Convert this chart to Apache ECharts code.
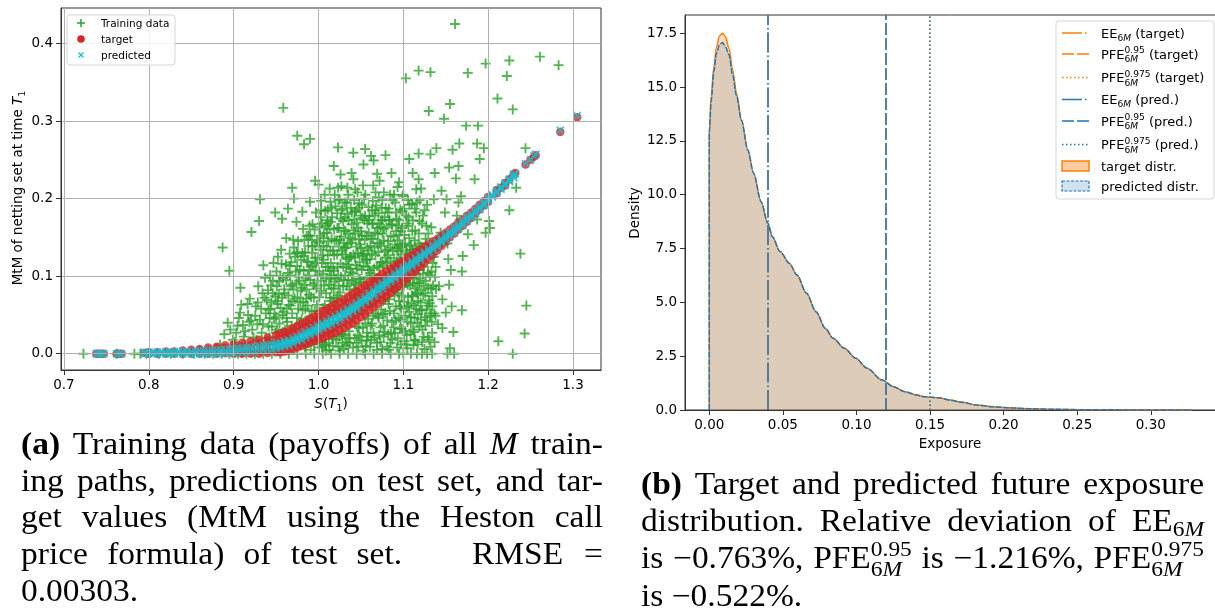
<!DOCTYPE html>
<html lang="en">
<head>
<meta charset="UTF-8">
<title>Training data and exposure distribution</title>
<script src="https://cdn.jsdelivr.net/npm/echarts@6.0.0/dist/echarts.min.js"></script>
<style>
  html, body { margin: 0; padding: 0; background: #fff; }
  #main { width: 1215px; height: 614px; }
</style>
</head>
<body>
<div id="main"></div>
<script type="text/javascript">
// ---- data: left panel (payoffs vs S(T1)) ----
var trainPts = [
  // payoff zero
  [0.723,0],[0.762,0],[0.783,0],[0.79,0],[0.797,0],[0.812,0],[0.826,0],[0.84,0],[0.853,0],[0.866,0],[0.876,0],[0.886,0],
  [0.895,0],[0.905,0],[0.915,0],[0.925,0],[0.935,0],[0.945,0],[0.955,0],[0.965,0],[0.975,0],[0.985,0],[0.995,0],[1.005,0],
  [1.015,0],[1.025,0],[1.035,0],[1.045,0],[1.055,0],[1.065,0],[1.075,0],[1.085,0],[1.095,0],[1.1,0],[1.109,0],[1.116,0],
  [1.122,0],[1.128,0],[1.134,0],[1.152,0],[1.16,0],[1.229,0],
  // 0.88 - 0.92
  [0.884,0.012],[0.889,0.025],[0.893,0.04],[0.896,0.031],[0.887,0.137],[0.895,0.107],[0.899,0.018],[0.892,0.006],
  [0.903,0.027],[0.906,0.046],[0.909,0.063],[0.911,0.037],[0.914,0.012],[0.917,0.05],[0.905,0.008],[0.912,0.022],
  [0.919,0.071],[0.908,0.085],[0.921,0.157],[0.93,0.171],[0.931,0.199],[0.935,0.114],
  [0.9015,0.015],[0.9045,0.036],[0.9075,0.053],[0.9105,0.004],[0.9135,0.029],[0.9165,0.064],[0.9185,0.041],
  // 0.92 - 0.94
  [0.922,0.031],[0.924,0.004],[0.926,0.061],[0.927,0.018],[0.929,0.087],[0.931,0.044],[0.933,0.027],[0.934,0.078],
  [0.936,0.009],[0.938,0.052],[0.939,0.069],[0.928,0.038],[0.937,0.098],
  [0.9205,0.043],[0.9235,0.021],[0.9255,0.049],[0.9285,0.066],[0.9305,0.012],[0.9325,0.058],[0.9345,0.038],
  [0.9365,0.072],[0.9385,0.02],[0.9405,0.082],[0.9425,0.046],[0.9435,0.011],
  // 0.94 - 0.96
  [0.941,0.057],[0.942,0.021],[0.944,0.088],[0.945,0.035],[0.946,0.078],[0.947,0.117],[0.948,0.006],[0.95,0.047],
  [0.951,0.087],[0.952,0.064],[0.953,0.015],[0.955,0.1],[0.956,0.134],[0.957,0.072],[0.958,0.028],[0.959,0.054],
  [0.943,0.101],[0.949,0.074],[0.954,0.039],[0.949,0.182],[0.957,0.174],[0.9585,0.317],
  [0.9455,0.016],[0.9475,0.045],[0.9495,0.027],[0.9515,0.068],[0.9535,0.093],[0.9555,0.012],[0.9575,0.05],
  [0.9595,0.083],[0.9445,0.066],[0.9505,0.106],[0.9565,0.116],
  [0.9412,0.035],[0.9432,0.058],[0.9462,0.094],[0.9482,0.052],[0.9512,0.031],[0.9532,0.077],[0.9552,0.059],
  [0.9582,0.098],[0.9522,0.125],
  // 0.96 - 0.98
  [0.96,0.078],[0.961,0.012],[0.962,0.095],[0.963,0.041],[0.964,0.104],[0.965,0.063],[0.966,0.024],[0.967,0.087],
  [0.968,0.118],[0.969,0.052],[0.97,0.005],[0.971,0.137],[0.972,0.071],[0.973,0.033],[0.974,0.091],[0.975,0.113],
  [0.976,0.058],[0.977,0.018],[0.978,0.108],[0.979,0.081],[0.962,0.149],[0.969,0.214],[0.971,0.2],[0.974,0.17],
  [0.964,0.187],[0.966,0.129],[0.976,0.145],[0.975,0.281],
  [0.9605,0.031],[0.9625,0.058],[0.9645,0.075],[0.9665,0.101],[0.9685,0.036],[0.9705,0.083],[0.9725,0.125],
  [0.9745,0.046],[0.9765,0.099],[0.9785,0.066],[0.9615,0.115],[0.9655,0.009],[0.9695,0.068],[0.9735,0.015],
  [0.9755,0.129],[0.9775,0.038],[0.9795,0.121],
  [0.9622,0.046],[0.9642,0.021],[0.9672,0.062],[0.9692,0.089],[0.9712,0.029],[0.9732,0.106],[0.9752,0.073],
  [0.9772,0.094],[0.9792,0.011],[0.9662,0.113],[0.9702,0.147],[0.9742,0.131],
  // 0.98 - 1.00
  [0.98,0.044],[0.981,0.13],[0.982,0.067],[0.983,0.126],[0.984,0.009],[0.985,0.097],[0.986,0.152],[0.987,0.029],
  [0.988,0.139],[0.989,0.076],[0.99,0.152],[0.991,0.112],[0.992,0.055],[0.993,0.167],[0.994,0.088],[0.995,0.021],
  [0.996,0.123],[0.997,0.182],[0.998,0.063],[0.999,0.101],[0.982,0.161],[0.985,0.04],[0.988,0.118],[0.993,0.138],
  [0.997,0.04],[0.996,0.223],[0.981,0.183],[0.99,0.196],[0.986,0.083],[0.99,0.277],[0.983,0.27],
  [0.9805,0.085],[0.9825,0.107],[0.9845,0.058],[0.9865,0.119],[0.9885,0.017],[0.9905,0.095],[0.9925,0.13],
  [0.9945,0.072],[0.9965,0.107],[0.9985,0.145],[0.9815,0.027],[0.9835,0.147],[0.9855,0.071],[0.9875,0.1],
  [0.9895,0.048],[0.9915,0.035],[0.9935,0.114],[0.9955,0.055],[0.9975,0.084],[0.9995,0.124],[0.9895,0.165],
  [0.9955,0.16],
  [0.9812,0.056],[0.9832,0.089],[0.9852,0.013],[0.9872,0.062],[0.9892,0.108],[0.9912,0.073],[0.9932,0.029],
  [0.9952,0.091],[0.9972,0.117],[0.9992,0.046],[0.9842,0.131],[0.9882,0.152],[0.9922,0.147],[0.9962,0.139],
  [0.9982,0.024],[0.9908,0.005],[0.9948,0.012],
  // 1.00 - 1.02
  [1.0,0.218],[1.001,0.143],[1.002,0.027],[1.003,0.094],[1.004,0.168],[1.005,0.059],[1.006,0.121],[1.007,0.011],
  [1.008,0.184],[1.009,0.078],[1.01,0.156],[1.011,0.186],[1.012,0.041],[1.013,0.107],[1.014,0.133],[1.015,0.068],
  [1.016,0.176],[1.017,0.019],[1.018,0.242],[1.019,0.093],[1.001,0.073],[1.004,0.117],[1.006,0.149],[1.009,0.004],
  [1.011,0.127],[1.013,0.161],[1.015,0.101],[1.017,0.051],[1.019,0.146],[1.003,0.197],[1.008,0.032],[1.014,0.196],
  [1.018,0.084],
  [1.0005,0.106],[1.0025,0.134],[1.0045,0.04],[1.0065,0.088],[1.0085,0.112],[1.0105,0.052],[1.0125,0.089],
  [1.0145,0.117],[1.0165,0.036],[1.0185,0.127],[1.0015,0.163],[1.0035,0.016],[1.0055,0.103],[1.0075,0.063],
  [1.0095,0.138],[1.0115,0.028],[1.0135,0.072],[1.0155,0.148],[1.0175,0.11],[1.0195,0.062],[1.0025,0.176],
  [1.0085,0.165],[1.0145,0.17],[1.0185,0.16],
  [1.0012,0.049],[1.0032,0.081],[1.0052,0.127],[1.0072,0.041],[1.0092,0.097],[1.0112,0.112],[1.0132,0.056],
  [1.0152,0.084],[1.0172,0.133],[1.0192,0.037],[1.0022,0.152],[1.0062,0.155],[1.0102,0.172],[1.0142,0.097],
  [1.0182,0.107],[1.0042,0.009],[1.0122,0.014],[1.0162,0.022],
  [1.0032,0.185],[1.0072,0.205],[1.0112,0.168],[1.0152,0.188],[1.0192,0.205],[1.0132,0.213],[1.0008,0.008],
  [1.0048,0.018],[1.0088,0.012],[1.0128,0.005],[1.0168,0.01],[1.0058,0.139],[1.0118,0.145],[1.0178,0.072],
  // 1.02 - 1.04
  [1.02,0.19],[1.021,0.053],[1.022,0.128],[1.023,0.266],[1.024,0.162],[1.025,0.199],[1.026,0.231],[1.027,0.216],
  [1.028,0.014],[1.029,0.087],[1.03,0.143],[1.031,0.176],[1.032,0.063],[1.033,0.111],[1.034,0.214],[1.035,0.155],
  [1.036,0.029],[1.037,0.125],[1.038,0.188],[1.039,0.233],[1.021,0.097],[1.023,0.075],[1.025,0.041],[1.027,0.151],
  [1.029,0.171],[1.031,0.023],[1.033,0.137],[1.035,0.095],[1.037,0.058],[1.039,0.167],[1.022,0.181],[1.026,0.116],
  [1.03,0.006],[1.034,0.18],[1.038,0.105],[1.024,0.138],[1.032,0.158],
  [1.0205,0.035],[1.0225,0.112],[1.0245,0.057],[1.0265,0.099],[1.0285,0.128],[1.0305,0.069],[1.0325,0.04],
  [1.0345,0.122],[1.0365,0.083],[1.0385,0.143],[1.0215,0.146],[1.0235,0.009],[1.0255,0.079],[1.0275,0.133],
  [1.0295,0.052],[1.0315,0.101],[1.0335,0.015],[1.0355,0.172],[1.0375,0.109],[1.0395,0.046],[1.0235,0.198],
  [1.0285,0.187],[1.0335,0.195],[1.0385,0.125],
  [1.0212,0.071],[1.0232,0.101],[1.0252,0.147],[1.0272,0.025],[1.0292,0.112],[1.0312,0.136],[1.0332,0.087],
  [1.0352,0.061],[1.0372,0.149],[1.0392,0.094],[1.0222,0.162],[1.0262,0.174],[1.0302,0.159],[1.0342,0.141],
  [1.0382,0.075],[1.0242,0.022],[1.0322,0.124],[1.0362,0.014],
  [1.0232,0.214],[1.0272,0.185],[1.0312,0.195],[1.0352,0.205],[1.0392,0.182],[1.0208,0.018],[1.0248,0.004],
  [1.0288,0.025],[1.0328,0.011],[1.0368,0.02],[1.0238,0.088],[1.0298,0.095],[1.0358,0.115],
  // 1.04 - 1.06
  [1.04,0.147],[1.041,0.259],[1.042,0.072],[1.043,0.183],[1.044,0.114],[1.045,0.035],[1.046,0.208],[1.047,0.162],
  [1.048,0.194],[1.049,0.096],[1.05,0.136],[1.051,0.017],[1.052,0.175],[1.053,0.244],[1.054,0.063],[1.055,0.264],
  [1.056,0.121],[1.057,0.152],[1.058,0.085],[1.059,0.189],[1.041,0.047],[1.043,0.124],[1.045,0.169],[1.047,0.009],
  [1.049,0.141],[1.051,0.108],[1.053,0.051],[1.055,0.178],[1.057,0.027],[1.059,0.133],[1.042,0.198],[1.046,0.076],
  [1.05,0.158],[1.054,0.2],[1.058,0.112],[1.044,0.089],[1.052,0.129],[1.056,0.066],
  [1.0405,0.103],[1.0425,0.02],[1.0445,0.138],[1.0465,0.057],[1.0485,0.118],[1.0505,0.075],[1.0525,0.034],
  [1.0545,0.147],[1.0565,0.098],[1.0585,0.045],[1.0415,0.159],[1.0435,0.083],[1.0455,0.11],[1.0475,0.033],
  [1.0495,0.178],[1.0515,0.126],[1.0535,0.092],[1.0555,0.01],[1.0575,0.168],[1.0595,0.078],[1.0445,0.185],
  [1.0525,0.217],[1.0575,0.137],[1.0465,0.13],
  [1.0412,0.128],[1.0432,0.155],[1.0452,0.055],[1.0472,0.097],[1.0492,0.062],[1.0512,0.152],[1.0532,0.113],
  [1.0552,0.039],[1.0572,0.121],[1.0592,0.156],[1.0422,0.173],[1.0462,0.024],[1.0502,0.092],[1.0542,0.172],
  [1.0582,0.022],[1.0442,0.069],[1.0522,0.063],[1.0562,0.083],
  [1.0432,0.212],[1.0472,0.188],[1.0512,0.192],[1.0552,0.205],[1.0592,0.172],[1.0412,0.225],[1.0408,0.008],
  [1.0448,0.014],[1.0488,0.022],[1.0528,0.004],[1.0568,0.017],[1.0418,0.091],[1.0478,0.148],[1.0538,0.128],
  [1.0598,0.108],
  // 1.06 - 1.08
  [1.06,0.177],[1.061,0.104],[1.062,0.255],[1.063,0.039],[1.064,0.168],[1.065,0.249],[1.066,0.137],[1.067,0.073],
  [1.068,0.191],[1.069,0.014],[1.07,0.154],[1.071,0.201],[1.072,0.223],[1.073,0.118],[1.074,0.057],[1.075,0.172],
  [1.076,0.091],[1.077,0.146],[1.078,0.028],[1.079,0.256],[1.061,0.062],[1.063,0.129],[1.065,0.092],[1.067,0.185],
  [1.069,0.113],[1.071,0.046],[1.073,0.163],[1.075,0.006],[1.077,0.208],[1.079,0.124],[1.062,0.148],[1.066,0.021],
  [1.07,0.084],[1.074,0.139],[1.078,0.176],[1.064,0.197],[1.072,0.101],[1.076,0.068],
  [1.0605,0.122],[1.0625,0.084],[1.0645,0.049],[1.0665,0.156],[1.0685,0.097],[1.0705,0.131],[1.0725,0.076],
  [1.0745,0.188],[1.0765,0.114],[1.0785,0.052],[1.0615,0.036],[1.0635,0.167],[1.0655,0.11],[1.0675,0.052],
  [1.0695,0.143],[1.0715,0.024],[1.0735,0.095],[1.0755,0.155],[1.0775,0.082],[1.0795,0.099],[1.0645,0.217],
  [1.0705,0.181],[1.0765,0.036],[1.0685,0.069],
  [1.0612,0.139],[1.0632,0.101],[1.0652,0.066],[1.0672,0.127],[1.0692,0.162],[1.0712,0.088],[1.0732,0.034],
  [1.0752,0.118],[1.0772,0.161],[1.0792,0.072],[1.0622,0.018],[1.0662,0.178],[1.0702,0.049],[1.0742,0.172],
  [1.0782,0.132],[1.0642,0.148],[1.0722,0.142],[1.0762,0.051],
  [1.0632,0.185],[1.0672,0.208],[1.0712,0.168],[1.0752,0.198],[1.0792,0.188],[1.0692,0.232],[1.0608,0.009],
  [1.0648,0.027],[1.0688,0.005],[1.0728,0.015],[1.0768,0.022],[1.0658,0.095],[1.0718,0.111],[1.0778,0.097],
  // 1.08 - 1.10
  [1.08,0.163],[1.081,0.043],[1.082,0.127],[1.083,0.187],[1.084,0.081],[1.085,0.152],[1.086,0.233],[1.087,0.018],
  [1.088,0.109],[1.089,0.205],[1.09,0.141],[1.091,0.061],[1.092,0.174],[1.093,0.096],[1.094,0.132],[1.095,0.221],
  [1.096,0.032],[1.097,0.158],[1.098,0.075],[1.099,0.118],[1.081,0.098],[1.083,0.005],[1.085,0.119],[1.087,0.166],
  [1.089,0.052],[1.091,0.102],[1.093,0.146],[1.095,0.068],[1.097,0.012],[1.099,0.184],[1.082,0.145],[1.086,0.087],
  [1.09,0.027],[1.094,0.165],[1.098,0.138],[1.084,0.172],[1.092,0.085],
  [1.0805,0.117],[1.0825,0.064],[1.0845,0.137],[1.0865,0.041],[1.0885,0.151],[1.0905,0.082],[1.0925,0.119],
  [1.0945,0.046],[1.0965,0.097],[1.0985,0.162],[1.0815,0.182],[1.0835,0.104],[1.0855,0.026],[1.0875,0.133],
  [1.0895,0.075],[1.0915,0.158],[1.0935,0.02],[1.0955,0.12],[1.0975,0.058],[1.0995,0.141],[1.0845,0.205],
  [1.0905,0.195],[1.0965,0.186],
  [1.0812,0.134],[1.0832,0.07],[1.0852,0.102],[1.0872,0.084],[1.0892,0.123],[1.0912,0.043],[1.0932,0.108],
  [1.0952,0.153],[1.0972,0.128],[1.0992,0.086],[1.0822,0.025],[1.0862,0.167],[1.0902,0.112],[1.0942,0.078],
  [1.0982,0.032],[1.0842,0.055],[1.0922,0.136],[1.0962,0.061],
  [1.0832,0.172],[1.0872,0.198],[1.0912,0.182],[1.0952,0.172],[1.0992,0.203],[1.0932,0.215],[1.0808,0.009],
  [1.0848,0.014],[1.0888,0.034],[1.0928,0.008],[1.0968,0.044],[1.0838,0.089],[1.0898,0.092],[1.0958,0.139],
  // 1.10 - 1.12
  [1.1,0.205],[1.101,0.067],[1.102,0.142],[1.103,0.355],[1.104,0.024],[1.105,0.116],[1.106,0.176],[1.107,0.251],
  [1.108,0.088],[1.109,0.047],[1.11,0.134],[1.111,0.233],[1.112,0.011],[1.113,0.099],[1.114,0.159],[1.115,0.058],
  [1.116,0.127],[1.117,0.077],[1.118,0.225],[1.119,0.035],[1.101,0.187],[1.103,0.093],[1.105,0.041],[1.107,0.149],
  [1.109,0.108],[1.111,0.074],[1.113,0.017],[1.115,0.102],[1.117,0.051],[1.119,0.171],[1.102,0.119],[1.106,0.062],
  [1.11,0.193],[1.114,0.084],[1.118,0.142],[1.104,0.168],[1.112,0.131],[1.116,0.195],[1.118,0.258],[1.118,0.365],
  [1.1005,0.087],[1.1025,0.049],[1.1045,0.13],[1.1065,0.097],[1.1085,0.025],[1.1105,0.158],[1.1125,0.062],
  [1.1145,0.118],[1.1165,0.04],[1.1185,0.091],[1.1015,0.153],[1.1035,0.012],[1.1055,0.073],[1.1075,0.121],
  [1.1095,0.065],[1.1115,0.031],[1.1135,0.146],[1.1155,0.079],[1.1175,0.108],[1.1195,0.056],[1.1055,0.198],
  [1.1135,0.187],
  [1.1012,0.104],[1.1032,0.133],[1.1052,0.089],[1.1072,0.054],[1.1092,0.14],[1.1112,0.091],[1.1132,0.046],
  [1.1152,0.135],[1.1172,0.068],[1.1192,0.115],[1.1022,0.029],[1.1062,0.165],[1.1102,0.075],[1.1142,0.018],
  [1.1182,0.155],[1.1042,0.06],[1.1122,0.111],[1.1162,0.091],
  [1.1032,0.178],[1.1072,0.192],[1.1112,0.172],[1.1152,0.182],[1.1192,0.198],[1.1152,0.212],[1.1008,0.016],
  [1.1048,0.007],[1.1088,0.039],[1.1128,0.028],[1.1168,0.012],[1.1018,0.121],[1.1078,0.138],[1.1138,0.125],
  [1.1198,0.138],
  // 1.12 - 1.14
  [1.12,0.097],[1.121,0.213],[1.122,0.056],[1.123,0.118],[1.124,0.022],[1.125,0.185],[1.126,0.078],[1.127,0.142],
  [1.128,0.043],[1.129,0.104],[1.13,0.313],[1.131,0.065],[1.132,0.257],[1.133,0.163],[1.134,0.027],[1.135,0.088],
  [1.136,0.125],[1.137,0.233],[1.138,0.049],[1.139,0.265],[1.122,0.168],[1.126,0.036],[1.128,0.192],[1.13,0.136],
  [1.132,0.009],[1.134,0.074],[1.136,0.199],[1.138,0.112],[1.124,0.088],[1.14,0.147],[1.132,0.363],
  [1.1205,0.066],[1.1225,0.031],[1.1245,0.112],[1.1265,0.094],[1.1285,0.062],[1.1305,0.018],[1.1325,0.084],
  [1.1345,0.117],[1.1365,0.052],[1.1385,0.083],[1.1215,0.138],[1.1255,0.047],[1.1295,0.155],[1.1335,0.041],
  [1.1375,0.099],[1.1235,0.075],[1.1315,0.101],
  [1.1212,0.082],[1.1232,0.103],[1.1252,0.131],[1.1272,0.057],[1.1292,0.085],[1.1312,0.049],[1.1332,0.106],
  [1.1222,0.015],[1.1262,0.148],[1.1302,0.069],[1.1342,0.061],
  [1.1232,0.178],[1.1272,0.165],[1.1208,0.044],[1.1248,0.006],[1.1288,0.021],[1.1328,0.052],[1.1368,0.015],
  [1.1408,0.038],
  // 1.14 - 1.17
  [1.142,0.087],[1.145,0.21],[1.146,0.07],[1.146,0.033],[1.148,0.303],[1.15,0.053],[1.151,0.199],[1.153,0.122],
  [1.154,0.089],[1.154,0.24],[1.155,0.322],[1.155,0.007],[1.156,0.108],[1.158,0.263],[1.159,0.028],[1.161,0.425],
  [1.163,0.178],[1.165,0.242],[1.165,0.195],[1.165,0.169],[1.166,0.271],[1.168,0.203],[1.169,0.106],[1.169,0.056],
  [1.17,0.126],[1.144,0.156],[1.149,0.182],[1.152,0.142],[1.157,0.061],[1.162,0.226],
  // beyond 1.17
  [1.174,0.294],[1.176,0.362],[1.176,0.154],[1.183,0.14],[1.184,0.225],[1.187,0.173],[1.187,0.271],[1.188,0.294],
  [1.19,0.251],[1.195,0.265],[1.197,0.374],[1.197,0.156],[1.201,0.171],[1.202,0.162],[1.211,0.329],[1.212,0.016],
  [1.222,0.358],[1.225,0.378],[1.225,0.185],[1.229,0.315],[1.233,0.214],[1.238,0.129],[1.243,0.026],[1.244,0.265],
  [1.245,0.062],[1.261,0.383],[1.283,0.372]
];

// target values: [S, [MtM values at that S]]
var targetCols = [
  [0.738,[0]],[0.741,[0]],[0.744,[0]],[0.747,[0]],[0.762,[0]],[0.765,[0]],[0.768,[0]],[0.795,[0.001]],
  [0.80,[0.002,0]],[0.81,[0.002,0]],[0.82,[0.003,0]],[0.83,[0.003,0]],[0.84,[0.004,0]],
  [0.85,[0.005,0.003,0]],[0.86,[0.006,0.004,0]],[0.87,[0.008,0.005,0]],[0.88,[0.009,0.006,0]],
  [0.89,[0.011,0.007,0.0005]],[0.90,[0.012,0.008,0.001,0]],[0.91,[0.014,0.0095,0.001,0]],
  [0.92,[0.016,0.011,0.002,0]],[0.93,[0.018,0.013,0.003,0]],[0.94,[0.021,0.015,0.004,0.001]],
  [0.95,[0.024,0.017,0.005,0.002]],[0.955,[0.026,0.019,0.006,0.002]],[0.96,[0.028,0.021,0.007,0.003]],
  [0.965,[0.030,0.023,0.008,0.004]],[0.97,[0.033,0.025,0.010,0.006]],[0.975,[0.036,0.028,0.012,0.008]],
  [0.98,[0.039,0.031,0.015,0.010]],[0.985,[0.042,0.034,0.017,0.012]],[0.99,[0.045,0.037,0.020,0.014]],
  [0.995,[0.048,0.040,0.022,0.016]],[1.00,[0.052,0.043,0.025,0.018]],[1.005,[0.055,0.046,0.027,0.020]],
  [1.01,[0.058,0.049,0.030,0.023]],[1.015,[0.061,0.052,0.032,0.025]],[1.02,[0.064,0.055,0.035,0.027]],
  [1.025,[0.067,0.058,0.038,0.030]],[1.03,[0.070,0.061,0.041,0.033]],[1.035,[0.074,0.065,0.045,0.036]],
  [1.04,[0.077,0.068,0.048,0.039]],[1.045,[0.081,0.072,0.052,0.043]],[1.05,[0.084,0.076,0.056,0.047]],
  [1.055,[0.088,0.080,0.060,0.051]],[1.06,[0.092,0.084,0.064,0.056]],[1.065,[0.095,0.088,0.068,0.060]],
  [1.07,[0.099,0.092,0.073,0.064]],[1.075,[0.103,0.096,0.077,0.069]],[1.08,[0.107,0.100,0.082,0.074]],
  [1.085,[0.110,0.103,0.086,0.078]],[1.09,[0.113,0.107,0.091,0.083]],[1.095,[0.117,0.111,0.095,0.087]],
  [1.10,[0.120,0.115,0.099,0.092]],[1.105,[0.124,0.118,0.104,0.097]],[1.11,[0.127,0.122,0.109,0.102]],
  [1.115,[0.131,0.126,0.113,0.107]],[1.12,[0.134,0.130,0.118,0.112]],[1.125,[0.138,0.134,0.122,0.117]],
  [1.13,[0.141,0.137,0.127,0.123]],[1.135,[0.145,0.141,0.132,0.128]],[1.14,[0.148,0.145,0.137,0.133]],
  [1.145,[0.152,0.149,0.142,0.139]],[1.15,[0.156,0.153,0.147,0.144]],[1.155,[0.160,0.150]],
  [1.16,[0.164,0.155]],[1.165,[0.169,0.160]],[1.17,[0.173,0.165]],[1.175,[0.178,0.170]],
  [1.18,[0.182,0.175]],[1.185,[0.187,0.181]],[1.19,[0.192,0.186]],[1.195,[0.197,0.191]],
  [1.20,[0.202,0.196]],[1.21,[0.211,0.207]],[1.215,[0.214]],[1.22,[0.220,0.217]],[1.225,[0.225]],
  [1.23,[0.231]],[1.232,[0.233]],[1.244,[0.244]],[1.25,[0.25]],[1.254,[0.254]],[1.256,[0.256]],
  [1.285,[0.286]],[1.305,[0.305]]
];

// network predictions: [S, [predicted MtM values]]
var predCols = [
  [0.738,[0]],[0.741,[0]],[0.744,[0]],[0.747,[0]],[0.762,[0]],[0.765,[0]],[0.768,[0]],
  [0.795,[0,0.002]],[0.80,[0,0.002]],[0.805,[0,0.002]],[0.81,[0,0.002]],[0.815,[0,0.002]],[0.82,[0,0.002]],
  [0.825,[0,0.002]],[0.83,[0,0.003]],[0.835,[0,0.003]],[0.84,[0,0.003]],[0.845,[0,0.003]],[0.85,[0,0.003]],
  [0.855,[0,0.003]],[0.86,[0,0.004]],[0.865,[0,0.004]],[0.87,[0,0.004]],[0.875,[0,0.004]],[0.88,[0,0.005]],
  [0.885,[0.001,0.005]],[0.89,[0.001,0.005]],[0.895,[0.001,0.006]],[0.90,[0.001,0.006]],[0.905,[0.002,0.007]],
  [0.91,[0.002,0.007]],[0.915,[0.002,0.008]],[0.92,[0.003,0.008]],[0.925,[0.003,0.009]],[0.93,[0.004,0.010]],
  [0.935,[0.005,0.011]],[0.94,[0.006,0.011]],[0.945,[0.006,0.012]],
  [0.95,[0.007,0.010,0.013]],[0.955,[0.008,0.011,0.014]],[0.96,[0.010,0.013,0.016]],[0.965,[0.011,0.014,0.017]],
  [0.97,[0.013,0.0165,0.020]],[0.975,[0.016,0.019,0.022]],[0.98,[0.018,0.0215,0.025]],[0.985,[0.021,0.0245,0.028]],
  [0.99,[0.024,0.027,0.030]],[0.995,[0.027,0.030,0.033]],[1.00,[0.030,0.033,0.036]],[1.005,[0.033,0.036,0.039]],
  [1.01,[0.036,0.039,0.042]],[1.015,[0.038,0.0415,0.045]],[1.02,[0.041,0.0445,0.048]],[1.025,[0.044,0.0475,0.051]],
  [1.03,[0.048,0.051,0.054]],[1.035,[0.051,0.0545,0.058]],[1.04,[0.055,0.058,0.061]],[1.045,[0.058,0.0615,0.065]],
  [1.05,[0.063,0.066,0.069]],[1.055,[0.067,0.070,0.073]],[1.06,[0.071,0.0745,0.078]],[1.065,[0.075,0.0785,0.082]],
  [1.07,[0.080,0.0835,0.087]],[1.075,[0.084,0.0875,0.091]],[1.08,[0.089,0.092,0.095]],[1.085,[0.093,0.096,0.099]],
  [1.09,[0.097,0.100,0.103]],[1.095,[0.101,0.104,0.107]],[1.10,[0.105,0.108,0.111]],[1.105,[0.109,0.112,0.115]],
  [1.11,[0.113,0.116,0.119]],[1.115,[0.117,0.120,0.123]],[1.12,[0.121,0.124,0.127]],[1.125,[0.126,0.1285,0.131]],
  [1.13,[0.130,0.1325,0.135]],[1.135,[0.134,0.137,0.140]],[1.14,[0.138,0.141,0.144]],[1.145,[0.143,0.1455,0.148]],
  [1.15,[0.147,0.150,0.153]],[1.155,[0.152,0.1545,0.157]],[1.16,[0.156,0.159,0.162]],[1.165,[0.161,0.1635,0.166]],
  [1.17,[0.166,0.1685,0.171]],[1.175,[0.171,0.1735,0.176]],[1.18,[0.176,0.178,0.180]],[1.185,[0.181,0.183,0.185]],
  [1.19,[0.186,0.188,0.190]],[1.195,[0.191,0.193,0.195]],[1.20,[0.197,0.199,0.201]],[1.205,[0.202,0.2035,0.205]],
  [1.21,[0.207,0.2085,0.210]],[1.215,[0.212,0.2135,0.215]],[1.22,[0.217,0.2185,0.220]],[1.225,[0.222,0.2235,0.225]],
  [1.23,[0.227,0.229,0.231]],
  [1.232,[0.232]],[1.244,[0.245]],[1.25,[0.25]],[1.254,[0.255]],[1.256,[0.257]],[1.285,[0.288]],[1.305,[0.307]]
];

// ---- data: right panel (exposure density) ----
var expoX      = [0, 0, 0.0013, 0.0031, 0.0049, 0.0069, 0.009, 0.011, 0.0134, 0.0159, 0.0185, 0.0219, 0.0262, 0.0301,
                  0.0352, 0.0398, 0.0429, 0.0481, 0.0545, 0.0596, 0.0661, 0.0725, 0.0789, 0.0841, 0.0918, 0.0995, 0.1072,
                  0.1175, 0.1252, 0.1329, 0.1406, 0.1458, 0.156, 0.1638, 0.1715, 0.1817, 0.192, 0.2023, 0.2177, 0.2357,
                  0.2537, 0.2743, 0.30, 0.3283];
var targetDens = [0, 12.9, 14.56, 15.95, 16.88, 17.38, 17.5, 17.35, 16.8, 15.8, 14.71, 13.47, 12.08, 11.0,
                  9.68, 8.67, 8.05, 7.36, 6.81, 6.27, 5.42, 4.57, 3.79, 3.33, 2.87, 2.4, 1.94,
                  1.39, 1.08, 0.85, 0.70, 0.62, 0.57, 0.46, 0.36, 0.23, 0.155, 0.11, 0.06, 0.03,
                  0.015, 0.006, 0.003, 0];
var predDens   = [0, 12.9, 14.4, 15.72, 16.57, 16.96, 17.07, 16.88, 16.5, 15.56, 14.6, 13.45, 12.08, 11.0,
                  9.68, 8.67, 8.05, 7.36, 6.81, 6.27, 5.42, 4.57, 3.79, 3.33, 2.87, 2.4, 1.94,
                  1.39, 1.08, 0.85, 0.70, 0.62, 0.57, 0.46, 0.36, 0.23, 0.155, 0.11, 0.06, 0.03,
                  0.015, 0.006, 0.003, 0];
var eeTarget = 0.0401, pfe95Target = 0.1189, pfe975Target = 0.1468;
var eePred = 0.0398, pfe95Pred = 0.1175, pfe975Pred = 0.1460;

// tick labels
var xTicksA = [0.7, 0.8, 0.9, 1.0, 1.1, 1.2, 1.3];
var yTicksA = [0, 0.1, 0.2, 0.3, 0.4];
var xTicksB = [0, 0.05, 0.1, 0.15, 0.2, 0.25, 0.3];
var yTicksB = [0, 2.5, 5, 7.5, 10, 12.5, 15, 17.5];

var ORANGE = '#ff7f0e', BLUE = '#1f77b4', GREEN = '#2ca02c', RED = '#d62728', CYAN = '#17becf';
var DASHDOT = [20, 3, 1.5, 3], DASHED = [12, 3], DOTTED = [1.5, 2.5];

// ---- text helpers (mathtext-like runs laid out with measured widths) ----
var mctx = document.createElement('canvas').getContext('2d');
function fontOf(r, fam, base) {
    var sz = base * (r.f || 1);
    return (r.k === 'i' ? 'italic ' : '') + (r.k === 'b' ? 'bold ' : '') + sz.toFixed(2) + 'px "' + fam + '"';
}
function runW(r, fam, base, sx) {
    mctx.font = fontOf(r, fam, base);
    return mctx.measureText(r.t).width * sx;
}
function listW(list, fam, base, sx) {
    var s = 0;
    list.forEach(function (p) {
        s += p.sup ? Math.max(listW(p.sup, fam, base, sx), listW(p.sub, fam, base, sx)) : runW(p, fam, base, sx);
    });
    return s;
}
function baseOff(font) {
    mctx.font = font;
    mctx.textBaseline = 'alphabetic';
    var a = mctx.measureText('H').actualBoundingBoxAscent;
    mctx.textBaseline = 'middle';
    var b = mctx.measureText('H').actualBoundingBoxAscent;
    mctx.textBaseline = 'alphabetic';
    return a - b;
}
function emitList(list, x, yb, fam, base, sx, color, out, z) {
    list.forEach(function (p) {
        if (p.sup) {
            emitList(p.sup, x, yb, fam, base, sx, color, out, z);
            emitList(p.sub, x, yb, fam, base, sx, color, out, z);
            x += Math.max(listW(p.sup, fam, base, sx), listW(p.sub, fam, base, sx));
        } else {
            var f = fontOf(p, fam, base);
            out.push({
                type: 'text', x: x, y: yb + (p.dy || 0) * base - baseOff(f), scaleX: sx, z: z || 10, silent: true,
                style: { text: p.t, font: f, fill: color, textAlign: 'left', textVerticalAlign: 'middle',
                         align: 'left', verticalAlign: 'middle' }
            });
            x += runW(p, fam, base, sx);
        }
    });
    return x;
}
function norm(wd) { return typeof wd === 'string' ? [{ t: wd }] : wd; }
function layoutLine(words, x0, x1, yb, fam, base, sx, justify, weights, out) {
    words = words.map(norm);
    var widths = words.map(function (wd) { return listW(wd, fam, base, sx); });
    var total = widths.reduce(function (a, b) { return a + b; }, 0);
    var spaceW = runW({ t: ' ' }, fam, base, sx);
    var ws = weights || words.slice(1).map(function () { return 1; });
    var wsum = ws.reduce(function (a, b) { return a + b; }, 0);
    var x = x0;
    words.forEach(function (wd, i) {
        emitList(wd, x, yb, fam, base, sx, '#000', out);
        if (i < words.length - 1) {
            x += widths[i] + (justify ? (x1 - x0 - total) * ws[i] / wsum : spaceW);
        }
    });
}
function centered(list, cx, cy, fam, base, rot) {
    var kids = [];
    var wdt = listW(list, fam, base, 1);
    emitList(list, -wdt / 2, 0.36 * base, fam, base, 1, '#000', kids);
    return { type: 'group', x: cx, y: cy, rotation: rot || 0, silent: true, children: kids };
}
function sub6M(dy) { return [{ t: '6', f: 0.7, dy: dy }, { t: 'M', k: 'i', f: 0.7, dy: dy }]; }
function pfe(q, supDy, subDy) { return [{ t: 'PFE' }, { sup: [{ t: q, f: 0.7, dy: supDy }], sub: sub6M(subDy) }]; }

var SANS = 'DejaVu Sans', SERIF = 'Liberation Serif';
var graphics = [];

// axis titles
graphics.push(centered([{ t: 'S', k: 'i' }, { t: '(' }, { t: 'T', k: 'i' }, { t: '1', f: 0.7, dy: 0.2 }, { t: ')' }],
    331, 403, SANS, 13.5));
graphics.push(centered([{ t: 'MtM of netting set at time ' }, { t: 'T', k: 'i' }, { t: '1', f: 0.7, dy: 0.2 }],
    17, 188, SANS, 13.5, Math.PI / 2));
graphics.push(centered([{ t: 'Exposure' }], 950, 443, SANS, 13.5));
graphics.push(centered([{ t: 'Density' }], 634, 213, SANS, 13.5, Math.PI / 2));

// left legend
graphics.push({ type: 'rect', z: 20, silent: true, shape: { x: 67, y: 15, width: 108, height: 50, r: 3 },
    style: { fill: 'rgba(255,255,255,0.85)', stroke: '#d5d5d5', lineWidth: 1 } });
graphics.push({ type: 'line', z: 21, shape: { x1: 77, y1: 23, x2: 85, y2: 23 }, style: { stroke: GREEN, lineWidth: 1.5 } });
graphics.push({ type: 'line', z: 21, shape: { x1: 81, y1: 19, x2: 81, y2: 27 }, style: { stroke: GREEN, lineWidth: 1.5 } });
graphics.push({ type: 'circle', z: 21, shape: { cx: 81, cy: 39, r: 3.8 }, style: { fill: RED } });
graphics.push({ type: 'line', z: 21, shape: { x1: 78.5, y1: 52.5, x2: 83.5, y2: 57.5 }, style: { stroke: CYAN, lineWidth: 1.2 } });
graphics.push({ type: 'line', z: 21, shape: { x1: 78.5, y1: 57.5, x2: 83.5, y2: 52.5 }, style: { stroke: CYAN, lineWidth: 1.2 } });
[['Training data', 23], ['target', 39], ['predicted', 55]].forEach(function (e) {
    emitList([{ t: e[0] }], 101, e[1] + 0.36 * 10.5, SANS, 10.5, 1, '#000', graphics, 22);
});

// right legend
graphics.push({ type: 'rect', z: 20, silent: true, shape: { x: 1056, y: 21, width: 158, height: 178, r: 3 },
    style: { fill: 'rgba(255,255,255,0.85)', stroke: '#d5d5d5', lineWidth: 1 } });
var legB = [
    [[{ t: 'EE' }].concat(sub6M(0.22)).concat([{ t: ' (target)' }]), 33, ORANGE, DASHDOT],
    [pfe('0.95', -0.42, 0.27).concat([{ t: ' (target)' }]), 54, ORANGE, DASHED],
    [pfe('0.975', -0.42, 0.27).concat([{ t: ' (target)' }]), 77.5, ORANGE, DOTTED],
    [[{ t: 'EE' }].concat(sub6M(0.22)).concat([{ t: ' (pred.)' }]), 99.5, BLUE, DASHDOT],
    [pfe('0.95', -0.42, 0.27).concat([{ t: ' (pred.)' }]), 121, BLUE, DASHED],
    [pfe('0.975', -0.42, 0.27).concat([{ t: ' (pred.)' }]), 144.5, BLUE, DOTTED]
];
legB.forEach(function (e) {
    graphics.push({ type: 'line', z: 21, shape: { x1: 1062, y1: e[1], x2: 1089, y2: e[1] },
        style: { stroke: e[2], lineWidth: 1.5, lineDash: e[3] } });
    emitList(e[0], 1101, e[1] + 0.36 * 13, SANS, 13, 1, '#000', graphics, 22);
});
graphics.push({ type: 'rect', z: 21, shape: { x: 1062, y: 161, width: 27, height: 10 },
    style: { fill: 'rgba(255,127,14,0.4)', stroke: ORANGE, lineWidth: 1.5 } });
graphics.push({ type: 'rect', z: 21, shape: { x: 1062, y: 181, width: 27, height: 10 },
    style: { fill: 'rgba(31,119,180,0.21)', stroke: BLUE, lineWidth: 1.2, lineDash: [3, 1.5] } });
emitList([{ t: 'target distr.' }], 1101, 166 + 0.36 * 13, SANS, 13, 1, '#000', graphics, 22);
emitList([{ t: 'predicted distr.' }], 1101, 186 + 0.36 * 13, SANS, 13, 1, '#000', graphics, 22);

// captions
var CS = 31, CSX = 1.08;
var capA = [
    [[[{ t: '(a)', k: 'b' }], 'Training', 'data', '(payoffs)', 'of', 'all', [{ t: 'M', k: 'i' }], 'train-'], 454, true],
    [['ing', 'paths,', 'predictions', 'on', 'test', 'set,', 'and', 'tar-'], 490.5, true],
    [['get', 'values', '(MtM', 'using', 'the', 'Heston', 'call'], 527, true],
    [['price', 'formula)', 'of', 'test', 'set.', 'RMSE', '='], 564, true, [19.3, 19.3, 19.3, 19.3, 70, 21]],
    [['0.00303.'], 601, false]
];
capA.forEach(function (l) { layoutLine(l[0], 21, 603, l[1], SERIF, CS, CSX, l[2], l[3], graphics); });
var capB = [
    [[[{ t: '(b)', k: 'b' }], 'Target', 'and', 'predicted', 'future', 'exposure'], 494, true],
    [['distribution.', 'Relative', 'deviation', 'of', [{ t: 'EE' }].concat(sub6M(0.16))], 531, true],
    [['is', '\u22120.763%,', pfe('0.95', -0.4, 0.26), 'is', '\u22121.216%,', pfe('0.975', -0.4, 0.26)], 568, true],
    [['is', '\u22120.522%.'], 606, false]
];
capB.forEach(function (l) { layoutLine(l[0], 641, 1204, l[1], SERIF, CS, CSX, l[2], l[3], graphics); });

// ---- chart ----
var targetData = [], predData = [];
targetCols.forEach(function (c) { c[1].forEach(function (y) { targetData.push([c[0], y]); }); });
predCols.forEach(function (c) { c[1].forEach(function (y) { predData.push([c[0], y]); }); });
var targetCurve = expoX.map(function (x, i) { return [x, targetDens[i]]; });
var predCurve = expoX.map(function (x, i) { return [x, predDens[i]]; });

var plusPath = 'path://M0,4.05h10v1.9h-10zM4.05,0h1.9v10h-1.9z';
var crossPath = 'path://M1.4,0L5,3.6L8.6,0L10,1.4L6.4,5L10,8.6L8.6,10L5,6.4L1.4,10L0,8.6L3.6,5L0,1.4z';

function axisCommon(ticks, fmt, gi, min, max, split, z) {
    return {
        type: 'value', gridIndex: gi, min: min, max: max, z: z,
        axisLine: { show: true, onZero: false, lineStyle: { color: '#333', width: 1 } },
        axisTick: { show: true, length: 5, customValues: ticks, lineStyle: { color: '#333', width: 1 } },
        axisLabel: { customValues: ticks, formatter: fmt, color: '#000', fontSize: 13.5, fontFamily: SANS, margin: 8 },
        splitLine: { show: split, lineStyle: { color: '#b0b0b0', width: 1 } }
    };
}
function f1(v) { return v.toFixed(1); }
function f2(v) { return v.toFixed(2); }

var chart = echarts.init(document.getElementById('main'));
chart.setOption({
    animation: false,
    backgroundColor: '#fff',
    grid: [
        { left: 61, top: 8, width: 540, height: 362, show: true, borderColor: '#333', borderWidth: 1,
          containLabel: false, outerBoundsMode: 'none' },
        { left: 685, top: 15, width: 532, height: 395, show: true, borderColor: '#333', borderWidth: 1,
          containLabel: false, outerBoundsMode: 'none' }
    ],
    xAxis: [
        axisCommon(xTicksA, f1, 0, 0.6965, 1.333, true, 3),
        axisCommon(xTicksB, f2, 1, -0.0165, 0.345, false, 0)
    ],
    yAxis: [
        axisCommon(yTicksA, f1, 0, -0.021, 0.4457, true, 3),
        axisCommon(yTicksB, f1, 1, 0, 18.35, false, 0)
    ],
    series: [
        { name: 'Training data', type: 'scatter', xAxisIndex: 0, yAxisIndex: 0, data: trainPts,
          symbol: plusPath, symbolSize: 10, itemStyle: { color: GREEN }, silent: true },
        { name: 'target', type: 'scatter', xAxisIndex: 0, yAxisIndex: 0, data: targetData,
          symbol: 'circle', symbolSize: 8.5, itemStyle: { color: RED }, silent: true },
        { name: 'predicted', type: 'scatter', xAxisIndex: 0, yAxisIndex: 0, data: predData,
          symbol: crossPath, symbolSize: 8.5, itemStyle: { color: CYAN }, silent: true },
        { name: 'target distr.', type: 'line', xAxisIndex: 1, yAxisIndex: 1, data: targetCurve,
          showSymbol: false, smooth: 0.3, smoothMonotone: 'x', silent: true,
          lineStyle: { color: ORANGE, width: 1.5 }, areaStyle: { color: 'rgba(255,127,14,0.4)', origin: 'start' },
          markLine: { silent: true, symbol: ['none', 'none'], label: { show: false }, animation: false,
              data: [
                  { xAxis: eeTarget, lineStyle: { color: ORANGE, width: 1.5, type: DASHDOT } },
                  { xAxis: pfe95Target, lineStyle: { color: ORANGE, width: 1.5, type: DASHED } },
                  { xAxis: pfe975Target, lineStyle: { color: ORANGE, width: 1.5, type: DOTTED } }
              ] } },
        { name: 'predicted distr.', type: 'line', xAxisIndex: 1, yAxisIndex: 1, data: predCurve,
          showSymbol: false, smooth: 0.3, smoothMonotone: 'x', silent: true,
          lineStyle: { color: BLUE, width: 1.5, type: [6, 1.5] }, areaStyle: { color: 'rgba(31,119,180,0.21)', origin: 'start' },
          markLine: { silent: true, symbol: ['none', 'none'], label: { show: false }, animation: false,
              data: [
                  { xAxis: eePred, lineStyle: { color: BLUE, width: 1.5, type: DASHDOT } },
                  { xAxis: pfe95Pred, lineStyle: { color: BLUE, width: 1.5, type: DASHED } },
                  { xAxis: pfe975Pred, lineStyle: { color: BLUE, width: 1.5, type: DOTTED } }
              ] } }
    ],
    graphic: { elements: graphics }
});
</script>
</body>
</html>
